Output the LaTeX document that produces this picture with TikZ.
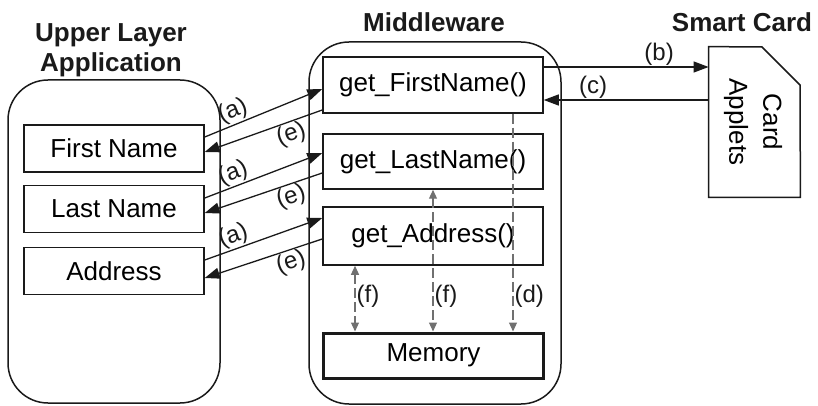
\documentclass[tikz,border=0pt]{standalone}
\usepackage{fontspec}
\setmainfont{Liberation Sans}
\usepackage{tikz}
\usetikzlibrary{arrows.meta}
\definecolor{ink}{HTML}{1A1A1A}
\definecolor{dashgray}{HTML}{707070}

\begin{document}
\begin{tikzpicture}[x=0.5pt,y=-0.5pt,
  fieldbox/.style={draw=ink, line width=0.75pt, minimum width=90pt, minimum height=23.5pt, inner sep=0pt, font=\fontsize{13}{15}\selectfont},
  funcbox/.style={fieldbox, minimum width=110pt},
  title/.style={font=\fontsize{13}{15}\selectfont\bfseries, align=center, text=ink},
  lbl/.style={font=\fontsize{12}{14}\selectfont, inner sep=0.5pt, text=ink},
  arr/.style={draw=ink, line width=0.65pt, -{Triangle[length=7.5pt,width=5.5pt]}},
  memline/.style={draw=dashgray, line width=0.6pt, dash pattern=on 5pt off 2pt},
  gtip/.tip={Triangle[length=4.5pt,width=4pt]}]
\useasboundingbox (0,0) rectangle (818,406);
% headings
\node[title] (apptitle) at (111,50) {Upper Layer\\Application};
\node[title] (midtitle) at (434,22) {Middleware};
\node[title] (cardtitle) at (742,22) {Smart Card};
% layers
\draw[ink, line width=0.75pt, rounded corners=20pt] (8,80) rectangle (220,403);
\draw[ink, line width=0.75pt, rounded corners=20pt] (309,42) rectangle (561,404);
% application fields
\node[fieldbox] (first) at (114,148.5) {First Name};
\node[fieldbox] (last) at (114,209) {Last Name};
\node[fieldbox] (addr) at (114,271) {Address};
% middleware functions
\node[funcbox, minimum height=28pt] (getfirst) at (433,85) {get\_FirstName()};
\node[funcbox, minimum height=27.5pt] (getlast) at (433,161.5) {get\_LastName()};
\node[funcbox, minimum height=29pt] (getaddr) at (433,236) {get\_Address()};
\node[funcbox, minimum height=22.5pt, line width=1.5pt] (mem) at (433.5,355.5) {Memory};
% card
\node[minimum width=45.5pt, minimum height=75pt, inner sep=0pt] (card) at (754.5,122) {};
\draw[ink, line width=0.75pt] (card.north west) -- (762,47) -- (800,85) -- (card.south east) -- (card.south west) -- cycle;
\node[rotate=-90, align=center, font=\fontsize{13}{17}\selectfont] (applets) at (753,122) {Card\\Applets};
% card requests
\draw[arr] (getfirst.east |- 0,67) -- node[lbl, above, pos=0.7] {(b)} (card.west |- 0,67);
\draw[arr] (card.west |- 0,100) -- node[lbl, above, pos=0.7] {(c)} (getfirst.east |- 0,100);
% calls and returns
\draw[arr] (first.east |- 0,137) -- node[lbl, above, sloped, pos=0.28] {(a)} (getfirst.west |- 0,89);
\draw[arr] (getfirst.west |- 0,110) -- node[lbl, below, sloped, pos=0.3] {(e)} (first.east |- 0,152);
\draw[arr] (last.east |- 0,198) -- node[lbl, above, sloped, pos=0.28] {(a)} (getlast.west |- 0,153);
\draw[arr] (getlast.west |- 0,173) -- node[lbl, below, sloped, pos=0.3] {(e)} (last.east |- 0,213);
\draw[arr] (addr.east |- 0,260) -- node[lbl, above, sloped, pos=0.28] {(a)} (getaddr.west |- 0,218);
\draw[arr] (getaddr.west |- 0,239) -- node[lbl, below, sloped, pos=0.3] {(e)} (addr.east |- 0,278);
% memory access
\draw[memline, -{gtip}] (513,0 |- getfirst.south) -- node[lbl, right, pos=0.84] {(d)} (513,0 |- mem.north);
\draw[memline, {gtip}-{gtip}] (getlast.south) -- node[lbl, right, pos=0.75] {(f)} (getlast.south |- mem.north);
\draw[memline, {gtip}-{gtip}] (355,0 |- getaddr.south) -- node[lbl, right, pos=0.47] {(f)} (355,0 |- mem.north);
\end{tikzpicture}
\end{document}
